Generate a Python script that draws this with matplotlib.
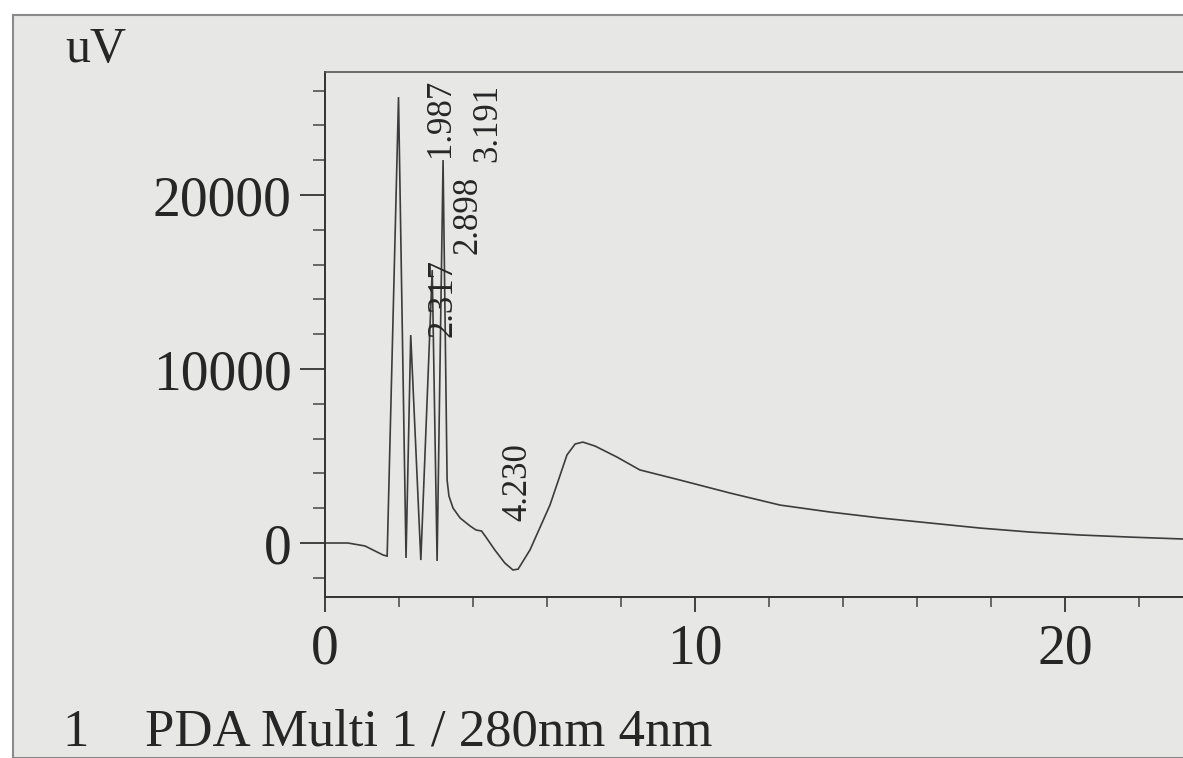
import matplotlib
matplotlib.use("Agg")
import matplotlib.pyplot as plt
from matplotlib.patches import Rectangle
from matplotlib.ticker import MultipleLocator, FixedLocator

# ---- data (time in min, signal in uV) ----
time_min = [0.0, 0.62, 1.08, 1.57, 1.68, 1.987, 2.19, 2.317, 2.59, 2.898, 3.03,
            3.191, 3.30, 3.35, 3.46, 3.65, 3.92, 4.08, 4.23, 4.35, 4.59, 4.86,
            5.08, 5.22, 5.54, 6.08, 6.54, 6.76, 6.97, 7.30, 7.89, 8.51, 9.59,
            10.95, 12.30, 13.65, 15.0, 16.35, 17.70, 19.05, 20.41, 21.76, 23.19]
signal_uv = [0, 0, -170, -690, -750, 25630, -860, 11950, -980, 15690, -1030,
             22010, 3620, 2700, 2010, 1440, 980, 750, 690, 340, -400, -1150,
             -1550, -1500, -400, 2180, 5060, 5690, 5800, 5570, 4940, 4200, 3620,
             2870, 2180, 1780, 1440, 1150, 860, 630, 460, 340, 230]

peak_labels = ["1.987", "3.191", "2.898", "2.317", "4.230"]
label_x = [3.11, 4.41, 3.86, 3.19, 5.22]          # label centre (min)
label_y = [24430, 24140, 18850, 14080, 3500]      # label centre (uV)

x_major = [0, 10, 20]
y_major = [0, 10000, 20000]
y_tick_text = ["0", "10000", "20000"]
x_tick_text = ["0", "10", "20"]

W, H = 1183, 758
fig = plt.figure(figsize=(W / 100, H / 100), dpi=100)
fig.patch.set_facecolor("white")
# scanned page background
fig.add_artist(Rectangle((13 / W, 0), 1, 1 - 15 / H, transform=fig.transFigure,
                         facecolor="#e7e7e6", edgecolor="#8a8a8a", lw=1.5, zorder=0))

serif = ["Liberation Serif", "DejaVu Serif"]
ink = "#262626"

ax = fig.add_axes([325 / W, 1 - 597 / H, 1 - 325 / W, (597 - 72) / H])
ax.set_facecolor("none")
ax.plot(time_min, signal_uv, color="#3c3c3c", lw=1.2, solid_joinstyle="miter")
ax.set_xlim(0, 23.19)
ax.set_ylim(-3103, 27069)

for s in ["left", "bottom"]:
    ax.spines[s].set_color("#333333")
    ax.spines[s].set_linewidth(1.4)
ax.spines["top"].set_color("#555555")
ax.spines["top"].set_linewidth(1.2)
ax.spines["right"].set_visible(False)

ax.xaxis.set_major_locator(FixedLocator(x_major))
ax.xaxis.set_minor_locator(MultipleLocator(2))
ax.yaxis.set_major_locator(FixedLocator(y_major))
ax.yaxis.set_minor_locator(MultipleLocator(2000))
ax.set_xticklabels(x_tick_text)
ax.set_yticklabels(y_tick_text)
ax.tick_params(axis="both", which="major", direction="out", color="#333333",
               width=1.3, labelsize=40, labelcolor=ink)
ax.tick_params(axis="x", which="major", length=11, pad=8)
ax.tick_params(axis="y", which="major", length=18, pad=6)
ax.tick_params(axis="x", which="minor", direction="out", length=7, width=1.1,
               color="#444444")
ax.tick_params(axis="y", which="minor", direction="out", length=9, width=1.1,
               color="#444444")
for lab in ax.get_xticklabels() + ax.get_yticklabels():
    lab.set_family(serif)

for txt, lx, ly in zip(peak_labels, label_x, label_y):
    ax.text(lx, ly, txt, rotation=90, ha="center", va="center", fontsize=25,
            family=serif, color=ink)

fig.text(65 / W, 1 - 50 / H, "uV", ha="left", va="center", fontsize=36,
         family=serif, color=ink)
fig.text(62 / W, 1 - 757 / H, "1", ha="left", va="bottom", fontsize=38,
         family=serif, color=ink)
fig.text(145 / W, 1 - 757 / H, "PDA Multi 1 / 280nm 4nm", ha="left",
         va="bottom", fontsize=38, family=serif, color=ink)

fig.savefig("out.png", dpi=100, facecolor=fig.get_facecolor())
